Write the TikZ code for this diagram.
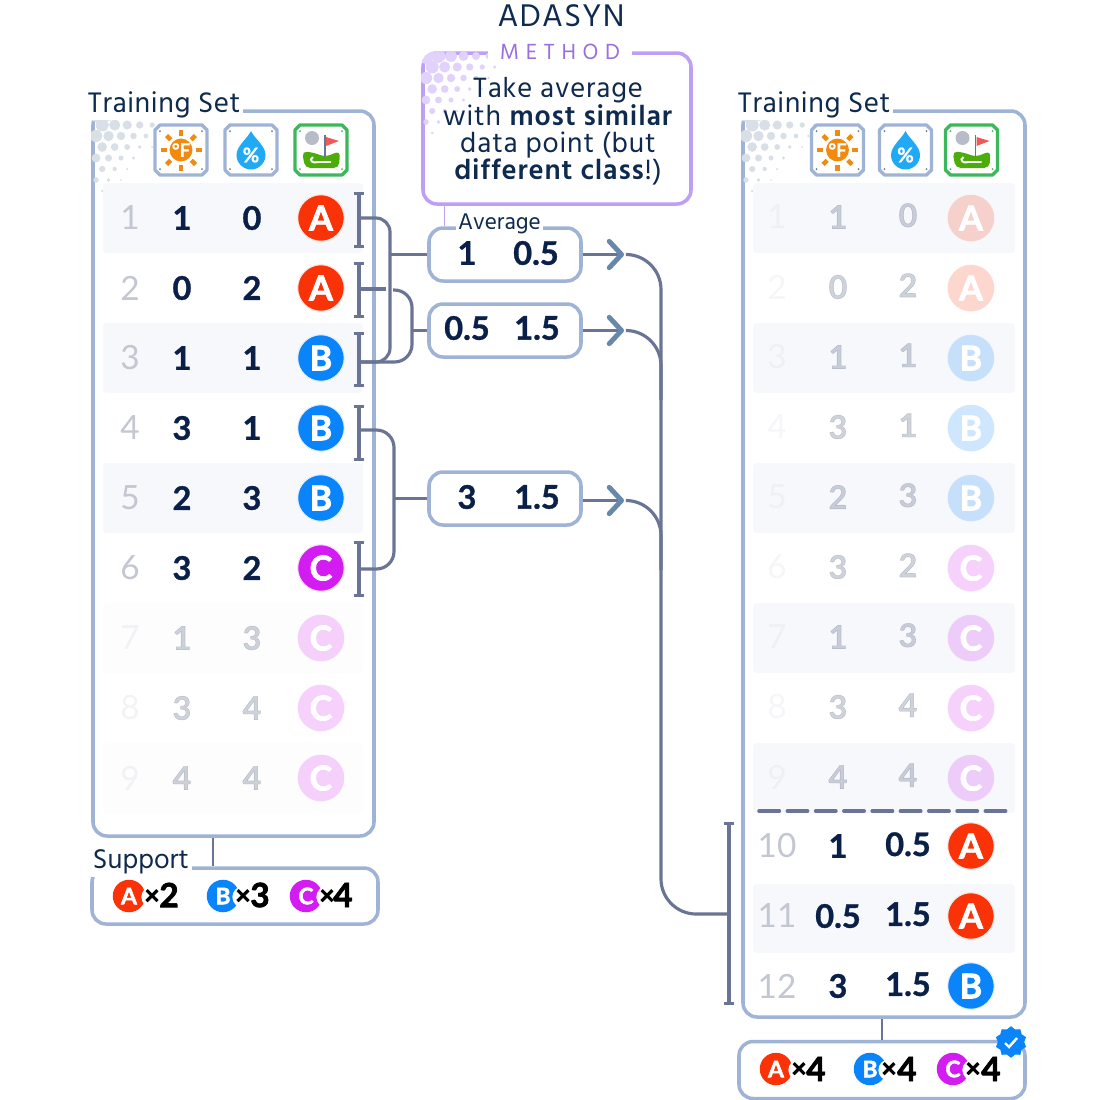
\documentclass[tikz,border=0pt]{standalone}
\usepackage{fontspec}
\setmainfont{Hind Madurai}
\newfontfamily\numfont{Lato}[BoldFeatures={FakeBold=1}]
\newfontfamily\heavyfont{Lato}[BoldFeatures={FakeBold=2.2}]
\usetikzlibrary{shapes.geometric, arrows.meta}
\definecolor{framecol}{HTML}{9FB3D6}
\definecolor{purplecol}{HTML}{BD9FF5}
\definecolor{methodcol}{HTML}{9A6FE0}
\definecolor{inkcol}{HTML}{0E2A4E}
\definecolor{digitcol}{HTML}{0B2048}
\definecolor{greycol}{HTML}{C3C7D1}
\definecolor{linkcol}{HTML}{6A7595}
\definecolor{chevcol}{HTML}{6787AB}
\definecolor{stripecol}{HTML}{F6F8FC}
\definecolor{clsA}{HTML}{F93208}
\definecolor{clsB}{HTML}{0A84FA}
\definecolor{clsC}{HTML}{D21CF2}
\definecolor{suncol}{HTML}{F28A0F}
\definecolor{dropcol}{HTML}{20AAF5}
\definecolor{golfcol}{HTML}{3CB85C}
\definecolor{turfcol}{HTML}{4CAC0A}
\definecolor{ballcol}{HTML}{B8BCC8}
\definecolor{flagcol}{HTML}{EE5A5A}
\definecolor{dotgrey}{HTML}{D8DFE6}
\definecolor{dotpurple}{HTML}{E0D2FA}
\tikzstyle{panel} = [rectangle, rounded corners=8pt, draw=framecol, line width=2pt, fill=white, inner sep=0pt]
\tikzstyle{caption} = [fill=white, inner sep=1.5pt, text=inkcol, font=\addfontfeature{LetterSpace=2}\fontsize{16.5}{16.5}\selectfont]
\tikzstyle{rowidx} = [text=greycol, font=\numfont\fontsize{19}{19}\selectfont, inner sep=0pt]
\tikzstyle{rowval} = [text=digitcol, font=\numfont\bfseries\fontsize{18.5}{18.5}\selectfont, inner sep=0pt]
\tikzstyle{badge} = [circle, minimum size=26.5pt, inner sep=0pt, line width=.6pt, text=white, font=\heavyfont\bfseries\fontsize{19.5}{19.5}\selectfont]
\tikzstyle{minibadge} = [circle, minimum size=18.5pt, inner sep=0pt, text=white, font=\heavyfont\bfseries\fontsize{13}{13}\selectfont]
\tikzstyle{bite} = [circle, fill=white, minimum size=11pt, inner sep=0pt, text=black, font=\heavyfont\bfseries\fontsize{15}{15}\selectfont]
\tikzstyle{count} = [inner sep=0pt, text=black, font=\heavyfont\bfseries\fontsize{19}{19}\selectfont]
\tikzstyle{iconframe} = [draw=framecol, line width=1.9pt, fill=white, line join=round]
\tikzstyle{link} = [draw=linkcol, line width=1.8pt]
\tikzstyle{thinlink} = [draw=linkcol, line width=.7pt]
\tikzstyle{arrow} = [link, -{Straight Barb[length=7pt, width=15pt, line width=2.8pt, color=chevcol, round]}]
\tikzstyle{bracket} = [link, {Bar[width=6pt, line width=1.8pt]}-{Bar[width=6pt, line width=1.8pt]}]
\newcommand{\iconplate}[1]{
  \draw [iconframe, #1] (-21,-25) -- (21,-25) -- (26,-20) -- (26,20) -- (21,25) -- (-21,25) -- (-26,20) -- (-26,-20) -- cycle;
}
\tikzset{
  sunicon/.pic={
    \iconplate{}
    \foreach \a in {0,45,...,315}
      \draw [draw=suncol, line width=2.6pt] (\a:14.5) -- (\a:20.5);
    \node [circle, fill=suncol, minimum size=13pt, inner sep=0pt, text=white, font=\numfont\bfseries\fontsize{10.5}{10.5}\selectfont] {°F};
    \foreach \px/\py in {-21/-19,21/-19,-21/19,21/19} \fill [linkcol] (\px,\py) circle (1);
  },
  dropicon/.pic={
    \iconplate{}
    \fill [dropcol] (0,-19) .. controls (4,-11) and (14.5,-4) .. (14.5,5) .. controls (14.5,13) and (8,19.5) .. (0,19.5) .. controls (-8,19.5) and (-14.5,13) .. (-14.5,5) .. controls (-14.5,-4) and (-4,-11) .. (0,-19) -- cycle;
    \node [text=white, inner sep=0pt, font=\numfont\bfseries\fontsize{11.5}{11.5}\selectfont] at (0,5) {\%};
    \foreach \px/\py in {-21/-19,21/-19,-21/19,21/19} \fill [linkcol] (\px,\py) circle (1);
  },
  golficon/.pic={
    \iconplate{draw=golfcol}
    \fill [ballcol] (-9,-12) circle (7);
    \fill [turfcol, rounded corners=3pt] (-19,1) -- (-6,3) -- (4,7) -- (19,1) -- (18,18) -- (-16,18) -- cycle;
    \draw [white, line width=1.1pt] (-8,7) .. controls (-13,10) and (-8,14) .. (-3,12) -- (10,12);
    \draw [linkcol, line width=1pt] (4,-15) -- (4,7);
    \fill [flagcol] (5,-13) -- (18,-9) -- (5,-4) -- cycle;
    \foreach \px/\py in {-21/-19,21/-19,-21/19,21/19} \fill [golfcol] (\px,\py) circle (1);
  }
}
\newcommand{\halftone}[3]{
  \foreach \hi in {0,...,7}
    \foreach \hj in {0,...,7} {
      \pgfmathsetmacro\hx{\hi*12.5+mod(\hj,2)*6.2}
      \pgfmathsetmacro\hy{\hj*11}
      \pgfmathsetmacro\hr{max(0,7.5*(1-(\hx+\hy)/98)+0.3)}
      \ifdim\hr pt>0.8pt
        \fill [#3] (#1+\hx,#2+\hy) circle (\hr);
      \fi
    }
}
\begin{document}
\begin{tikzpicture}[x=0.02cm,y=-0.02cm]
  \useasboundingbox (0,0) rectangle (1100,1100);

  % left table
  \node (trainL) [panel, minimum width=281*0.02cm, minimum height=725*0.02cm] at (233.5,473.5) {};
  \begin{scope}
    \clip [rounded corners=8pt] (trainL.north west) rectangle (trainL.south east);
    \halftone{96}{114}{dotgrey}
  \end{scope}
  \node (captionL) [caption, anchor=west] at (85,104.5) {Training Set};
  \pic at (181,150) {sunicon};
  \pic at (251,150) {dropicon};
  \pic at (321,150) {golficon};
  \foreach \n/\va/\vb/\cl/\fade in {1/1/0/A/1,2/0/2/A/1,3/1/1/B/1,4/3/1/B/1,5/2/3/B/1,6/3/2/C/1,7/1/3/C/.2,8/3/4/C/.2,9/4/4/C/.2} {
    \pgfmathsetmacro\rowy{148+70*\n}
    \ifodd\n \fill [stripecol, rounded corners=2pt, opacity=\fade] (103,\rowy-35) rectangle (363,\rowy+35); \fi
    \node (idxL\n) [rowidx, opacity=\fade] at (130,\rowy) {\n};
    \node (valaL\n) [rowval, opacity=\fade, right of=idxL\n, node distance=1.04cm] {\va};
    \node (valbL\n) [rowval, opacity=\fade, right of=valaL\n, node distance=1.4cm] {\vb};
    \node (badgeL\n) [badge, fill opacity=\fade, draw opacity=\fade, text opacity=1, fill=cls\cl, draw=cls\cl!12, right of=valbL\n, node distance=1.38cm] {\cl};
  }

  % left support
  \node (supportL) [panel, minimum width=286*0.02cm, minimum height=56*0.02cm] at (235,896) {};
  \node (captionS) [caption, font=\fontsize{15.8}{15.8}\selectfont, anchor=west] at (90,862) {Support};
  \draw [thinlink] ([xshift=-22*0.02cm]trainL.south -| supportL.north) -- ([xshift=-22*0.02cm]supportL.north);
  \node (suppA) [minibadge, fill=clsA] at (129,896) {A};
  \node (suppxA) [bite] at (152,897) {×};
  \node (suppnA) [count] at (169,895) {2};
  \node (suppB) [minibadge, fill=clsB] at (223,896) {B};
  \node (suppxB) [bite] at (243,897) {×};
  \node (suppnB) [count] at (260,895) {3};
  \node (suppC) [minibadge, fill=clsC] at (306,896) {C};
  \node (suppxC) [bite] at (327,897) {×};
  \node (suppnC) [count] at (343,895) {4};

  % method
  \node (adasyn) [text=inkcol, inner sep=0pt, font=\addfontfeature{LetterSpace=4}\fontsize{18.3}{18.3}\selectfont] at (561,16) {ADASYN};
  \node (methodbox) [panel, draw=purplecol, minimum width=268*0.02cm, minimum height=151*0.02cm] at (557,128.5) {};
  \begin{scope}
    \clip [rounded corners=8pt] (methodbox.north west) rectangle (methodbox.south east);
    \halftone{426}{56}{dotpurple}
  \end{scope}
  \node (methodtag) [fill=white, inner xsep=7pt, inner ysep=1pt, text=methodcol, font=\addfontfeature{LetterSpace=30}\fontsize{12.8}{12.8}\selectfont] at (560,52) {METHOD};
  \node (methodtext) [text=inkcol, align=center, inner sep=0pt, font=\addfontfeature{LetterSpace=3}\fontsize{16.3}{15.6}\selectfont] at (558,131.5) {Take average\\with \textbf{most similar}\\data point (but\\\textbf{different class}!)};

  % averages
  \node (avga) [panel, minimum width=152*0.02cm, minimum height=53*0.02cm] at (505,254.5) {};
  \node (avgb) [panel, minimum width=152*0.02cm, minimum height=53*0.02cm] at (505,330.5) {};
  \node (avgc) [panel, minimum width=152*0.02cm, minimum height=53*0.02cm] at (505,498.5) {};
  \node (captionA) [caption, anchor=west, font=\fontsize{13.2}{13.2}\selectfont, inner sep=1pt] at (456,224) {Average};
  \draw [draw=purplecol, line width=.7pt] ([xshift=17*0.02cm]avga.north west |- methodbox.south) -- ([xshift=17*0.02cm]avga.north west);
  \node (avgaval1) [rowval] at (467,253) {1};
  \node (avgaval2) [rowval] at (536,253) {0.5};
  \node (avgbval1) [rowval] at (467,328) {0.5};
  \node (avgbval2) [rowval] at (537,328) {1.5};
  \node (avgcval1) [rowval] at (467,497) {3};
  \node (avgcval2) [rowval] at (537,497) {1.5};

  % right table
  \node (trainR) [panel, minimum width=282*0.02cm, minimum height=906*0.02cm] at (884,564) {};
  \begin{scope}
    \clip [rounded corners=8pt] (trainR.north west) rectangle (trainR.south east);
    \halftone{746}{114}{dotgrey}
  \end{scope}
  \node (captionR) [caption, anchor=west] at (735,104.5) {Training Set};
  \pic at (837.5,150) {sunicon};
  \pic at (905.5,150) {dropicon};
  \pic at (971.5,150) {golficon};
  \foreach \n/\va/\vb/\cl in {1/1/0/A,2/0/2/A,3/1/1/B,4/3/1/B,5/2/3/B,6/3/2/C,7/1/3/C,8/3/4/C,9/4/4/C} {
    \pgfmathsetmacro\rowy{148+70*\n}
    \ifodd\n \fill [stripecol, rounded corners=2pt] (753,\rowy-35) rectangle (1015,\rowy+35); \fi
    \node (idxR\n) [rowidx, opacity=.15] at (777,\rowy-1) {\n};
    \node (valaR\n) [rowval, opacity=.2, right of=idxR\n, node distance=1.22cm] {\va};
    \node (valbR\n) [rowval, opacity=.2, right of=valaR\n, node distance=1.4cm, yshift=1pt] {\vb};
    \node (badgeR\n) [badge, fill opacity=.2, draw opacity=.2, text opacity=1, fill=cls\cl, draw=cls\cl!12, right of=valbR\n, node distance=1.26cm, yshift=-1.6pt] {\cl};
  }
  \draw [link, line width=2pt, dash pattern=on 11.6pt off 4.5pt, line cap=round] (759,811) -- (1011,811);
  \fill [stripecol, rounded corners=2pt] (753,884) rectangle (1015,953);
  \foreach \n/\va/\vb/\cl in {10/1/0.5/A,11/0.5/1.5/A,12/3/1.5/B} {
    \pgfmathsetmacro\rowy{145+70*(\n)}
    \node (idxR\n) [rowidx] at (777,\rowy+1) {\n};
    \node (valaR\n) [rowval, right of=idxR\n, node distance=1.22cm] {\va};
    \node (valbR\n) [rowval, right of=valaR\n, node distance=1.4cm, yshift=1pt] {\vb};
    \node (badgeR\n) [badge, fill=cls\cl, draw=cls\cl!12, right of=valbR\n, node distance=1.26cm, yshift=-1pt] {\cl};
  }

  % right support
  \node (supportR) [panel, minimum width=286*0.02cm, minimum height=57*0.02cm] at (882,1070) {};
  \draw [thinlink] (trainR.south -| supportR.north) -- (supportR.north);
  \node (suprA) [minibadge, fill=clsA] at (776,1069) {A};
  \node (suprxA) [bite] at (799,1070) {×};
  \node (suprnA) [count] at (816,1069) {4};
  \node (suprB) [minibadge, fill=clsB] at (870,1069) {B};
  \node (suprxB) [bite] at (889,1070) {×};
  \node (suprnB) [count] at (907,1069) {4};
  \node (suprC) [minibadge, fill=clsC] at (953,1069) {C};
  \node (suprxC) [bite] at (973,1070) {×};
  \node (suprnC) [count] at (991,1069) {4};
  \node (okbadge) [star, star points=10, star point ratio=1.2, fill=clsB, minimum size=18pt, inner sep=0pt] at (1011,1042) {};
  \draw [white, line width=1.4pt] ([shift={(-6,1)}]okbadge.center) -- ([shift={(-2,5)}]okbadge.center) -- ([shift={(6,-4)}]okbadge.center);

  % brackets
  \coordinate (brka) at (360,218);
  \coordinate (brkb) at (360,289);
  \coordinate (brkc) at (360,362);
  \coordinate (brkd) at (360,430);
  \coordinate (brkf) at (360,569);
  \coordinate (brkn) at (729,914);
  \draw [bracket] (359,192) -- (359,248);
  \draw [bracket] (359,262) -- (359,318);
  \draw [bracket] (359,332) -- (359,387);
  \draw [bracket] (359,405) -- (359,461);
  \draw [bracket] (359,541) -- (359,597);
  \draw [bracket] (729,822) -- (729,1005);

  \draw [link, rounded corners=8pt] (brka) -- (390,218) -- (390,362) -- (brkc);
  \draw [link] (390,254.5) -- (avga);
  \draw [link] (brkb) -- (386,289);
  \draw [link, rounded corners=10pt] (393,290) -- (412,290) -- (412,362) -- (brkc);
  \draw [link] (412,330.5) -- (avgb);
  \draw [link, rounded corners=10pt] (brkd) -- (394,430) -- (394,569) -- (brkf);
  \draw [link] (394,498.5) -- (avgc);

  % out to the new rows
  \coordinate (chev1) at (624,254.5);
  \coordinate (chev2) at (624,330.5);
  \coordinate (chev3) at (624,500.5);
  \coordinate (bus) at (661,914);
  \draw [arrow] (avga) -- (chev1);
  \draw [arrow] (avgb) -- (chev2);
  \draw [arrow] (avgc.east |- chev3) -- (chev3);
  \draw [link, rounded corners=20pt] ([xshift=2pt]chev1) -| (bus) -- (brkn);
  \draw [link, rounded corners=20pt] ([xshift=2pt]chev2) -| (661,400);
  \draw [link, rounded corners=20pt] ([xshift=2pt]chev3) -| (661,570);
\end{tikzpicture}
\end{document}
